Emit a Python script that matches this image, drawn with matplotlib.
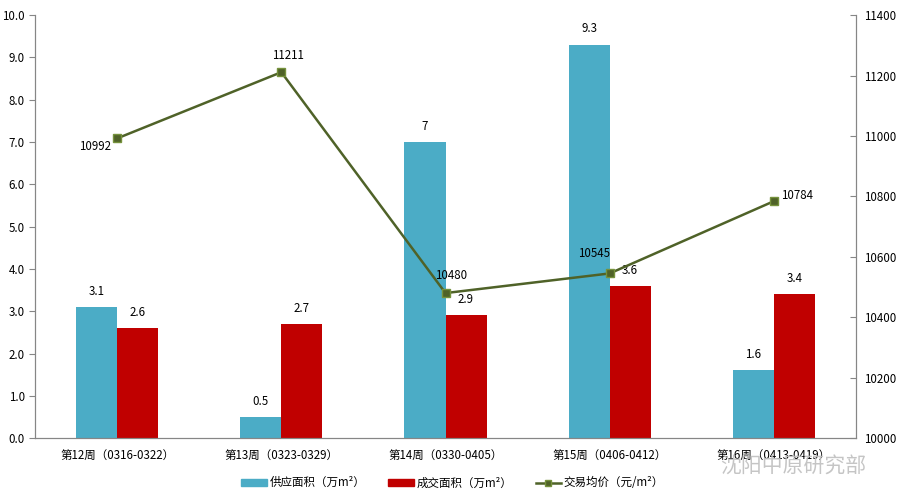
import matplotlib.pyplot as plt
import numpy as np
from matplotlib.lines import Line2D
from matplotlib.patches import Patch

plt.rcParams['font.family'] = ['Noto Sans CJK SC', 'DejaVu Sans']

weeks = ['第12周（0316-0322）', '第13周（0323-0329）', '第14周（0330-0405）',
         '第15周（0406-0412）', '第16周（0413-0419）']
supply = [3.1, 0.5, 7.0, 9.3, 1.6]
deal = [2.6, 2.7, 2.9, 3.6, 3.4]
supply_labels = ['3.1', '0.5', '7', '9.3', '1.6']
price = [10992, 11211, 10480, 10545, 10784]

blue = '#4BACC6'
red = '#C00000'
green = '#4F6228'
gray = '#868686'
fs = 8.3

fig = plt.figure(figsize=(9, 5.03), dpi=100)
ax = fig.add_axes([0.039, 0.129, 0.912, 0.841])
ax2 = ax.twinx()

x = np.arange(len(weeks))
w = 0.25
ax.bar(x - w / 2, supply, w, color=blue, zorder=2)
ax.bar(x + w / 2, deal, w, color=red, zorder=2)
for i in range(len(weeks)):
    ax.text(x[i] - w / 2, supply[i] + 0.22, supply_labels[i], ha='center', va='bottom', fontsize=fs)
    ax.text(x[i] + w / 2, deal[i] + 0.22, str(deal[i]), ha='center', va='bottom', fontsize=fs)

ax2.plot(x, price, color=green, lw=1.8, marker='s', ms=5.5, mfc=green, mec='#76923C', zorder=3)
offsets = [(-16, -6), (5, 12), (4, 13), (-11, 14), (17, 4)]
for i in range(len(weeks)):
    ax2.annotate(str(price[i]), (x[i], price[i]), xytext=offsets[i], textcoords='offset points',
                 ha='center', va='center', fontsize=fs)

ax.set_xlim(-0.5, 4.5)
ax.set_ylim(0, 10)
ax.set_yticks(np.arange(0, 10.5, 1))
ax.set_yticklabels(['%.1f' % v for v in np.arange(0, 10.5, 1)])
ax2.set_ylim(10000, 11400)
ax2.set_yticks(np.arange(10000, 11401, 200))
ax.set_xticks(x)
ax.set_xticklabels(weeks)

for a in (ax, ax2):
    a.spines['top'].set_visible(False)
    for s in ('left', 'right', 'bottom'):
        a.spines[s].set_color(gray)
    a.tick_params(labelsize=fs, color=gray, length=4)
ax.tick_params(axis='x', length=0, pad=8)
ax2.tick_params(axis='y', direction='in', pad=6)
ax.set_zorder(ax2.get_zorder() - 1)
ax.patch.set_visible(True)
ax2.patch.set_visible(False)

handles = [Patch(color=blue), Patch(color=red),
           Line2D([], [], color=green, lw=1.8, marker='s', ms=5, mfc=green, mec='#76923C')]
fig.legend(handles, ['供应面积（万m²）', '成交面积（万m²）', '交易均价（元/m²）'],
           loc='center', bbox_to_anchor=(0.503, 0.04), ncol=3, frameon=False,
           fontsize=fs, handlelength=2.2, handleheight=0.6, columnspacing=2.0,
           handletextpad=0.25)

fig.text(0.80, 0.075, '沈阳中原研究部', fontsize=15, color='#BFBFBF', alpha=0.9, ha='left', va='center')

fig.savefig('out.png', dpi=100)
